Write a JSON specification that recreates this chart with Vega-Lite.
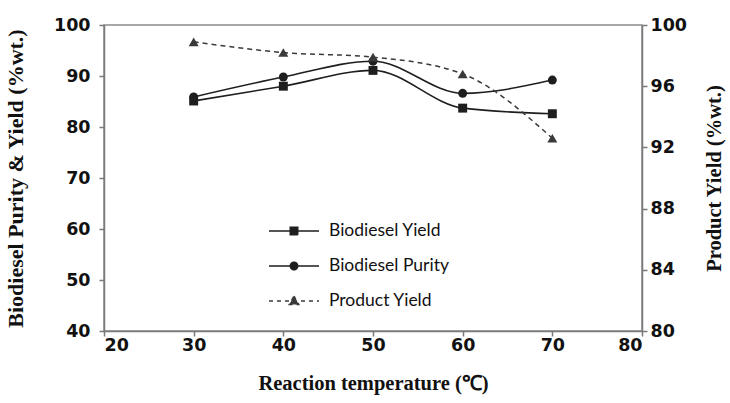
{
  "$schema": "https://vega.github.io/schema/vega-lite/v6.json",
  "width": 538,
  "height": 306,
  "autosize": "none",
  "padding": {"left": 104, "top": 25, "right": 88, "bottom": 72},
  "background": "white",
  "config": {
    "view": {"stroke": "#8a8a8a", "strokeWidth": 1.5},
    "axis": {
      "grid": false,
      "domainColor": "#7a7a7a",
      "domainWidth": 1.5,
      "tickColor": "#7a7a7a",
      "tickWidth": 1.5,
      "tickSize": 5,
      "labelFont": "DejaVu Sans",
      "labelFontWeight": "bold",
      "labelFontSize": 17.5,
      "labelColor": "#111",
      "titleFont": "Liberation Serif",
      "titleFontWeight": "bold",
      "titleFontSize": 20.5,
      "titleColor": "#111"
    },
    "legend": {
      "orient": "none",
      "legendX": 164,
      "legendY": 180,
      "title": null,
      "labelFont": "Lato",
      "labelFontSize": 17.5,
      "labelColor": "#111",
      "symbolSize": 2500,
      "rowPadding": 0,
      "labelOffset": 9
    }
  },
  "data": {
    "values": [
      {"temp": 30, "series": "Biodiesel Yield", "value": 85.1},
      {"temp": 40, "series": "Biodiesel Yield", "value": 88.0},
      {"temp": 50, "series": "Biodiesel Yield", "value": 91.1},
      {"temp": 60, "series": "Biodiesel Yield", "value": 83.7},
      {"temp": 70, "series": "Biodiesel Yield", "value": 82.6},
      {"temp": 30, "series": "Biodiesel Purity", "value": 85.9},
      {"temp": 40, "series": "Biodiesel Purity", "value": 89.8},
      {"temp": 50, "series": "Biodiesel Purity", "value": 92.9},
      {"temp": 60, "series": "Biodiesel Purity", "value": 86.6},
      {"temp": 70, "series": "Biodiesel Purity", "value": 89.2},
      {"temp": 30, "series": "Product Yield", "value": 98.9},
      {"temp": 40, "series": "Product Yield", "value": 98.2},
      {"temp": 50, "series": "Product Yield", "value": 97.9},
      {"temp": 60, "series": "Product Yield", "value": 96.8},
      {"temp": 70, "series": "Product Yield", "value": 92.6}
    ]
  },
  "encoding": {
    "x": {
      "field": "temp",
      "type": "quantitative",
      "scale": {"domain": [20, 80], "nice": false},
      "axis": {"values": [20, 30, 40, 50, 60, 70, 80], "title": "Reaction temperature (℃)", "labelPadding": 0, "titlePadding": 20}
    },
    "color": {
      "field": "series",
      "type": "nominal",
      "scale": {"domain": ["Biodiesel Yield", "Biodiesel Purity", "Product Yield"], "range": ["#1e1e1e", "#1e1e1e", "#3a3a3a"]},
      "legend": {
        "symbolType": "stroke",
        "encode": {
          "symbols": {
            "update": {
              "shape": {"signal": "datum.value === 'Biodiesel Yield' ? 'M-1,0H1M-0.15,-0.15H0.15V0.15H-0.15Z' : datum.value === 'Biodiesel Purity' ? 'M-1,0H1M0.15,0A0.15,0.15 0 1,1 -0.15,0A0.15,0.15 0 1,1 0.15,0Z' : 'M-1,0H1M0,-0.2L0.19,0.14H-0.19Z'"},
              "fill": {"value": "#1e1e1e"},
              "fillOpacity": {"value": 1},
              "stroke": {"value": "#1e1e1e"},
              "strokeWidth": {"value": 1.5},
              "strokeDash": {"signal": "datum.value === 'Product Yield' ? [4,4] : [1,0]"}
            }
          }
        }
      }
    }
  },
  "layer": [
    {
      "transform": [{"filter": "datum.series !== 'Product Yield'"}],
      "encoding": {
        "y": {
          "field": "value",
          "type": "quantitative",
          "scale": {"domain": [40, 100], "nice": false, "zero": false},
          "axis": {"orient": "left", "values": [40, 50, 60, 70, 80, 90, 100], "title": "Biodiesel Purity & Yield (%wt.)", "titleFontSize": 22, "labelPadding": 9, "titlePadding": 26}
        }
      },
      "layer": [
        {"mark": {"type": "line", "interpolate": "monotone", "strokeWidth": 1.6}, "encoding": {"detail": {"field": "series"}}},
        {
          "transform": [{"filter": "datum.series === 'Biodiesel Yield'"}],
          "mark": {"type": "point", "filled": true, "shape": "square", "size": 80, "opacity": 1}
        },
        {
          "transform": [{"filter": "datum.series === 'Biodiesel Purity'"}],
          "mark": {"type": "point", "filled": true, "shape": "circle", "size": 80, "opacity": 1}
        }
      ]
    },
    {
      "transform": [{"filter": "datum.series === 'Product Yield'"}],
      "encoding": {
        "y": {
          "field": "value",
          "type": "quantitative",
          "scale": {"domain": [80, 100], "nice": false, "zero": false},
          "axis": {"orient": "right", "values": [80, 84, 88, 92, 96, 100], "title": "Product Yield (%wt.)", "titleAngle": -90, "labelPadding": 3, "titlePadding": 38}
        }
      },
      "layer": [
        {"mark": {"type": "line", "interpolate": "monotone", "strokeWidth": 1.5, "strokeDash": [5, 4]}},
        {"mark": {"type": "point", "filled": true, "shape": "triangle-up", "size": 100, "opacity": 1}}
      ]
    }
  ],
  "resolve": {"scale": {"y": "independent"}}
}
